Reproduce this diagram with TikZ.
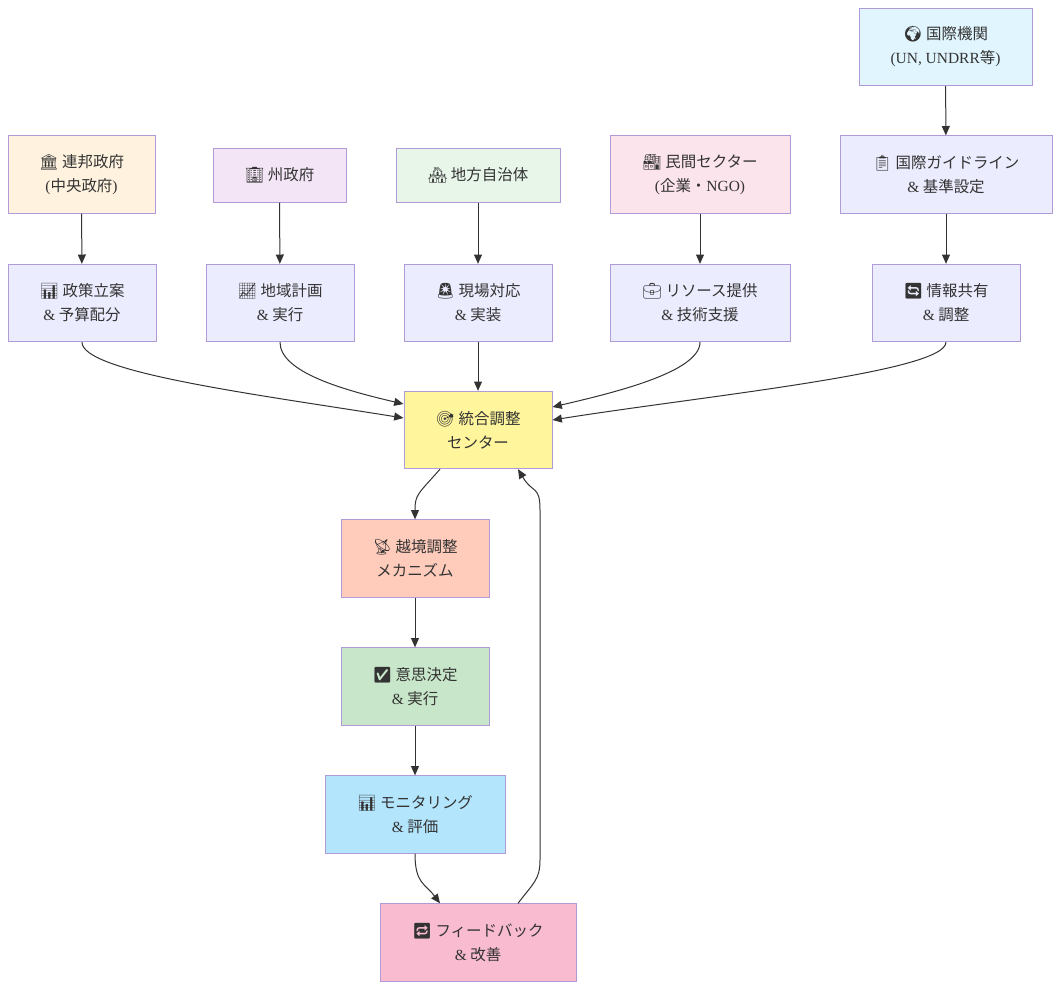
\documentclass[tikz,border=0pt]{standalone}
\usepackage{fontspec}
\setmainfont{Noto Sans CJK JP}
\newfontfamily\latf{Liberation Serif}
\newfontfamily\emof{Noto Emoji}
\newcommand\emj[1]{{\emof #1}}
\newcommand\lt[1]{{\latf #1}}
\usetikzlibrary{arrows.meta}
\definecolor{bd}{HTML}{B09AD8}
\definecolor{ln}{HTML}{333333}
\definecolor{tx}{HTML}{333333}
\definecolor{cdef}{HTML}{ECECFF}
\definecolor{cfed}{HTML}{FFF3E0}
\definecolor{cstate}{HTML}{F3E5F5}
\definecolor{clocal}{HTML}{E8F5E9}
\definecolor{cpriv}{HTML}{FCE4EC}
\definecolor{cintl}{HTML}{E1F5FE}
\definecolor{ccen}{HTML}{FFF59D}
\definecolor{ccross}{HTML}{FFCCBC}
\definecolor{cdec}{HTML}{C8E6C9}
\definecolor{cmon}{HTML}{B3E5FC}
\definecolor{cfb}{HTML}{F8BBD0}
\tikzset{
  box/.style={draw=bd, line width=0.75pt, align=center, text=tx, minimum height=58pt, inner sep=2pt, font=\fontsize{11.6}{18}\selectfont},
  arr/.style={draw=ln, line width=0.75pt, -{Triangle[length=7pt,width=6pt]}}
}
\begin{document}
\begin{tikzpicture}[x=0.75pt,y=-0.75pt]
\useasboundingbox (0,0) rectangle (1060,990);
% top rows
\node[box, fill=cintl, minimum width=129.75pt] (intl) at (945.5,47) {\emj{🌍} 国際機関\\\lt{(UN, UNDRR}等\lt{)}};
\node[box, fill=cfed, minimum width=110.25pt] (fed) at (81.5,174.5) {\emj{🏛} 連邦政府\\\lt{(}中央政府\lt{)}};
\node[box, fill=cstate, minimum width=99.75pt, minimum height=40.5pt] (state) at (279.5,175) {\emj{🏢} 州政府};
\node[box, fill=clocal, minimum width=123pt, minimum height=40.5pt] (local) at (478,175) {\emj{🏘} 地方自治体};
\node[box, fill=cpriv, minimum width=135pt] (priv) at (700,174.5) {\emj{🏭} 民間セクター\\\lt{(}企業・\lt{NGO)}};
\node[box, fill=cdef, minimum width=159pt] (guide) at (946,174.5) {\emj{📋} 国際ガイドライン\\\lt{\&} 基準設定};
% second row
\node[box, fill=cdef, minimum width=111pt] (policy) at (82,303) {\emj{📊} 政策立案\\\lt{\&} 予算配分};
\node[box, fill=cdef, minimum width=111pt] (reg) at (280,303) {\emj{📈} 地域計画\\\lt{\&} 実行};
\node[box, fill=cdef, minimum width=111pt] (field) at (478,303) {\emj{🚨} 現場対応\\\lt{\&} 実装};
\node[box, fill=cdef, minimum width=135pt] (res) at (700,303) {\emj{💼} リソース提供\\\lt{\&} 技術支援};
\node[box, fill=cdef, minimum width=111pt] (info) at (946,303) {\emj{🔄} 情報共有\\\lt{\&} 調整};
% center chain
\node[box, fill=ccen, minimum width=111pt] (cen) at (478,430) {\emj{🎯} 統合調整\\センター};
\node[box, fill=ccross, minimum width=111pt] (cross) at (415,558.5) {\emj{📡} 越境調整\\メカニズム};
\node[box, fill=cdec, minimum width=111pt] (dec) at (415,686.5) {\emj{✅} 意思決定\\\lt{\&} 実行};
\node[box, fill=cmon, minimum width=135pt] (mon) at (415,814.5) {\emj{📊} モニタリング\\\lt{\&} 評価};
\node[box, fill=cfb, minimum width=147pt] (fb) at (478,942.5) {\emj{🔁} フィードバック\\\lt{\&} 改善};
% straight edges
\draw[arr] (intl) -- (guide);
\draw[arr] (guide) -- (info);
\draw[arr] (fed) -- (policy);
\draw[arr] (state) -- (reg);
\draw[arr] (local) -- (field);
\draw[arr] (priv) -- (res);
\draw[arr] (field) -- (cen);
% curved to center
\draw[arr] (policy.south) .. controls +(0,30) and +(-150,-24) .. ([yshift=9pt]cen.west);
\draw[arr] (reg.south) .. controls +(0,30) and +(-60,-14) .. ([yshift=19.5pt]cen.west);
\draw[arr] (res.south) .. controls +(0,30) and +(60,-14) .. ([yshift=17.25pt]cen.east);
\draw[arr] (info.south) .. controls +(0,30) and +(150,-24) .. ([yshift=7.5pt]cen.east);
% chain
\draw[arr] ([xshift=-28.5pt]cen.south) .. controls +(-22,25) and +(0,-25) .. (cross.north);
\draw[arr] (cross) -- (dec);
\draw[arr] (dec) -- (mon);
\draw[arr] (mon.south) .. controls +(0,30) and +(-15,-20) .. ([xshift=-28.5pt]fb.north);
\coordinate (fbA) at (540,860);
\coordinate (fbB) at (540,510);
\draw[arr] ([xshift=30pt]fb.north) .. controls +(15,-20) and +(0,20) .. (fbA) -- (fbB) .. controls +(0,-25) and +(15,25) .. ([xshift=30pt]cen.south);
\end{tikzpicture}
\end{document}
